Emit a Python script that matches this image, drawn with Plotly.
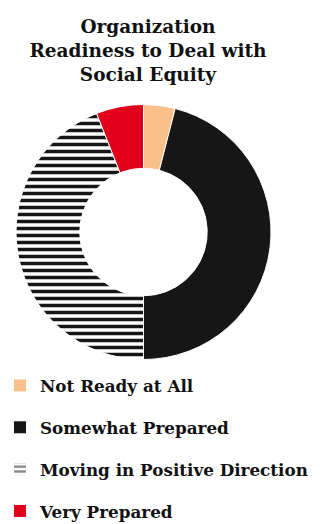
import plotly.graph_objects as go

title_text = "Organization<br>Readiness to Deal with<br>Social Equity"
categories = ["Not Ready at All", "Somewhat Prepared", "Moving in Positive Direction", "Very Prepared"]
values = [4, 46, 44, 6]
colors = ["#F9C08A", "#161616", "#FFFFFF", "#E0001B"]
patterns = ["", "", "-", ""]

FONT = "DejaVu Serif"
W, H = 323, 524
OFF = 8  # page body margin offset compensation

fig = go.Figure()
fig.add_trace(go.Pie(
    labels=categories,
    values=values,
    sort=False,
    direction="clockwise",
    rotation=0,
    hole=0.5,
    textinfo="none",
    hoverinfo="label+percent",
    showlegend=False,
    domain=dict(x=[(16 - OFF)/W, (271 - OFF)/W],
                y=[(H - 359.5 + OFF)/H, (H - 104.5 + OFF)/H]),
    marker=dict(
        colors=colors,
        line=dict(color="white", width=1),
        pattern=dict(shape=patterns, fgcolor="#161616", bgcolor=colors, size=7, solidity=0.5),
    ),
))

# legend proxies (one per category), so the legend spacing can match
for i, cat in enumerate(categories):
    fig.add_trace(go.Bar(
        x=[None], y=[None], name=cat,
        legendgroup=f"g{i}",
        marker=dict(
            color=colors[i],
            line=dict(width=0),
            pattern=dict(shape=patterns[i], fgcolor="#161616", bgcolor=colors[i], size=6, solidity=0.5),
        ),
        hoverinfo="skip",
    ))

fig.update_layout(
    width=W, height=H,
    margin=dict(l=0, r=0, t=0, b=0, autoexpand=False),
    paper_bgcolor="white", plot_bgcolor="white",
    title=dict(text=title_text, x=(148 - OFF)/W, xanchor="center", y=1 - 25/H, yanchor="top",
               yref="container", automargin=False,
               font=dict(family=FONT, size=18.5, color="#111111", weight="bold")),
    xaxis=dict(visible=False), yaxis=dict(visible=False),
    legend=dict(
        x=-8/W, xanchor="left", y=1 - 360/H, yanchor="top",
        tracegroupgap=17,
        font=dict(family=FONT, size=16.8, color="#111111", weight="bold"),
        bgcolor="rgba(0,0,0,0)",
    ),
    showlegend=True,
)

fig.write_html("out.html")
